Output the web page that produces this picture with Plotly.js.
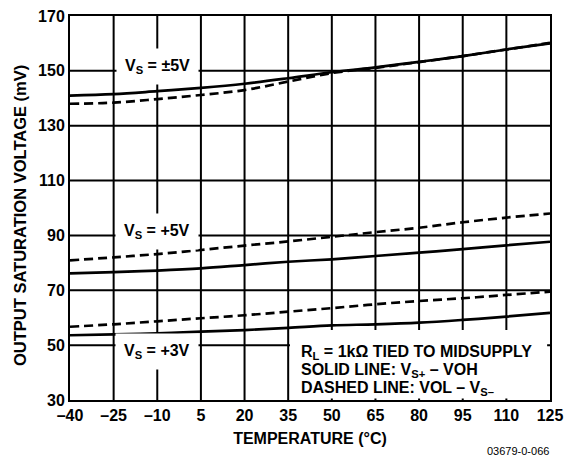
<!DOCTYPE html>
<html>
<head>
<meta charset="utf-8">
<script src="https://cdn.plot.ly/plotly-3.0.1.min.js"></script>
<style>
html,body{margin:0;padding:0;background:#fff;}
#chart{width:564px;height:460px;}
#chart .gridlayer path{shape-rendering:geometricPrecision !important;}
</style>
</head>
<body>
<div id="chart"></div>
<script>
// Temperature (°C)
var temps = [-40, -25, -10, 5, 20, 35, 50, 65, 80, 95, 110, 125];
// Output saturation voltage (mV)
var pm5Solid = [141.0, 141.5, 142.6, 143.8, 145.3, 147.3, 149.5, 151.3, 153.3, 155.4, 157.8, 160.0];
var pm5Dash  = [138.0, 138.4, 139.7, 141.2, 143.0, 146.1, 149.2, 151.1, 153.2, 155.4, 157.8, 160.2];
var p5Solid  = [76.2, 76.6, 77.2, 78.0, 79.2, 80.4, 81.3, 82.5, 83.7, 85.0, 86.4, 87.7];
var p5Dash   = [80.9, 82.0, 83.2, 84.7, 86.3, 87.8, 89.5, 91.2, 92.8, 94.8, 96.5, 98.0];
var p3Solid  = [53.6, 53.9, 54.3, 54.9, 55.5, 56.3, 57.2, 57.6, 58.2, 59.2, 60.4, 61.8];
var p3Dash   = [56.7, 57.6, 58.7, 59.8, 60.9, 62.2, 63.5, 64.9, 66.1, 67.1, 68.3, 69.5];

var xTickVals = [-40, -25, -10, 5, 20, 35, 50, 65, 80, 95, 110, 125];
var xTickText = ['\u201340', '\u201325', '\u201310', '5', '20', '35', '50', '65', '80', '95', '110', '125'];
var yTickVals = [30, 50, 70, 90, 110, 130, 150, 170];
var yTickText = ['30', '50', '70', '90', '110', '130', '150', '170'];

var seriesLabels = ['V<sub>S</sub> = \u00b15V', 'V<sub>S</sub> = +5V', 'V<sub>S</sub> = +3V'];
var seriesLabelY = [151.6, 91.6, 47.6];
var noteLines = ['R<sub>L</sub> = 1k\u03a9 TIED TO MIDSUPPLY', 'SOLID LINE: V<sub>S+</sub> \u2013 VOH', 'DASHED LINE: VOL \u2013 V<sub>S\u2013</sub>'];

function tr(y, dashed) {
  return {
    x: temps, y: y, type: 'scatter', mode: 'lines',
    line: {color: '#000', width: 2.7, shape: 'spline', dash: dashed ? '9px,5px' : 'solid'},
    hoverinfo: 'skip', showlegend: false
  };
}
var data = [tr(pm5Solid, false), tr(pm5Dash, true), tr(p5Solid, false), tr(p5Dash, true), tr(p3Solid, false), tr(p3Dash, true)];

var FAM = '"Liberation Sans", Arial, sans-serif';
var fontB = {family: FAM, size: 16, color: '#000', weight: 'bold'};

var annotations = [];
for (var i = 0; i < seriesLabels.length; i++) {
  annotations.push({
    x: -10, y: seriesLabelY[i], xref: 'x', yref: 'y', text: '<b>' + seriesLabels[i] + '</b>',
    showarrow: false, bgcolor: '#fff', borderpad: 8, font: fontB, xanchor: 'center', yanchor: 'middle'
  });
}
var noteY = [352, 370, 388];
for (var j = 0; j < noteLines.length; j++) {
  annotations.push({
    x: (299 - 70) / 480, y: (400 - noteY[j]) / 384, xref: 'paper', yref: 'paper',
    xanchor: 'left', yanchor: 'middle', align: 'left', showarrow: false, font: fontB,
    text: '<b>' + noteLines[j] + '</b>'
  });
}
annotations.push({
  x: (551 - 70) / 480, y: (400 - 451) / 384, xref: 'paper', yref: 'paper', text: '03679-0-066', showarrow: false,
  font: {family: FAM, size: 11, color: '#000'}, xanchor: 'right', yanchor: 'middle'
});
// y-axis title
annotations.push({
  x: (20 - 70) / 480, y: (400 - 216) / 384, xref: 'paper', yref: 'paper', textangle: -90,
  text: '<b>OUTPUT SATURATION VOLTAGE (mV)</b>', showarrow: false,
  font: {family: FAM, size: 16.5, color: '#000', weight: 'bold'}, xanchor: 'center', yanchor: 'middle'
});

var layout = {
  width: 564, height: 460,
  margin: {l: 70, r: 14, t: 16, b: 60},
  paper_bgcolor: '#fff', plot_bgcolor: '#fff',
  showlegend: false,
  font: {family: FAM},
  xaxis: {
    range: [-40, 125], tickvals: xTickVals, ticktext: xTickText, ticks: '',
    showgrid: true, gridcolor: '#000', gridwidth: 1.6, zeroline: false,
    showline: true, linecolor: '#000', linewidth: 2, mirror: true,
    tickfont: fontB,
    title: {text: '<b>TEMPERATURE (\u00b0C)</b>', font: fontB, standoff: 10}
  },
  yaxis: {
    range: [30, 170], tickvals: yTickVals, ticktext: yTickText, ticks: '',
    showgrid: true, gridcolor: '#000', gridwidth: 1.6, zeroline: false,
    showline: true, linecolor: '#000', linewidth: 2, mirror: true,
    tickfont: fontB
  },
  shapes: [{
    type: 'rect', xref: 'paper', yref: 'paper', x0: (290 - 70) / 480, x1: 0.994, y0: 0.004, y1: (400 - 330) / 384,
    fillcolor: '#fff', line: {width: 0}, layer: 'above'
  }],
  annotations: annotations
};

Plotly.newPlot('chart', data, layout, {displayModeBar: false});
</script>
</body>
</html>
